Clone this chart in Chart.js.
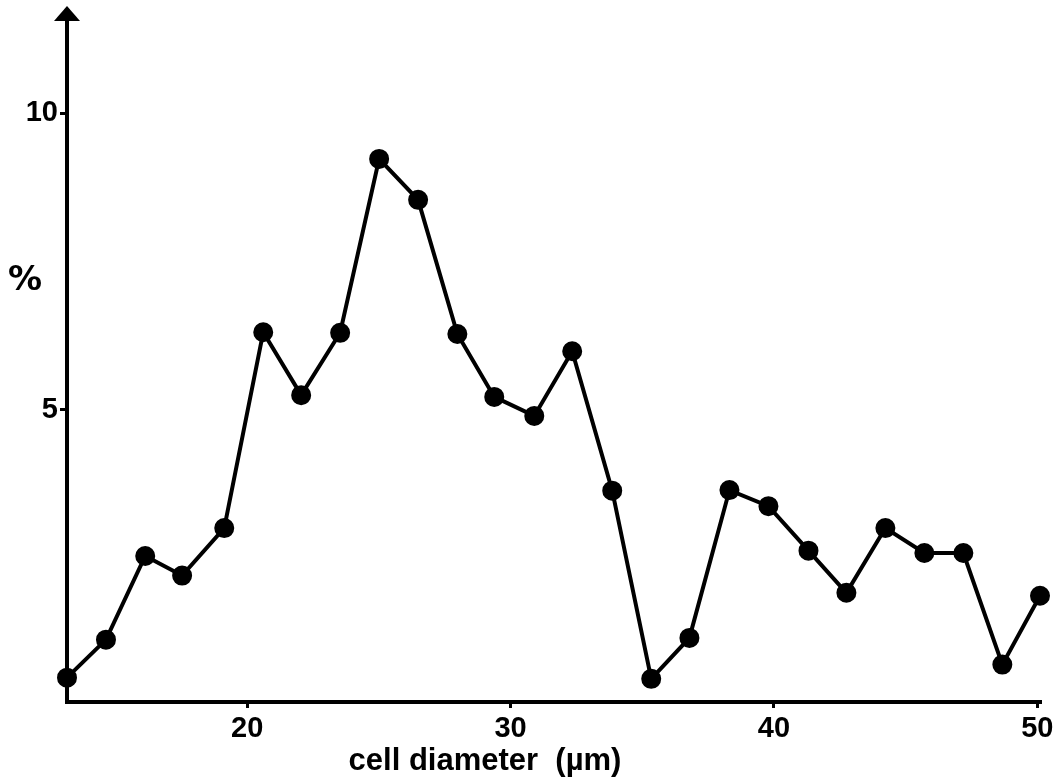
<!DOCTYPE html>
<html>
<head>
<meta charset="utf-8">
<title>cell diameter distribution</title>
<script src="https://cdn.jsdelivr.net/npm/chart.js@4/dist/chart.umd.min.js"></script>
<style>
  html, body { margin: 0; padding: 0; background: #fff; }
  #wrap { width: 1062px; height: 781px; }
</style>
</head>
<body>
<div id="wrap"><canvas id="sizeChart" width="1062" height="781"></canvas></div>
<script>
  // Data
  const diameters = [13.16, 14.64, 16.13, 17.53, 19.13, 20.61, 22.05, 23.53, 25.01, 26.49,
    27.98, 29.38, 30.9, 32.34, 33.86, 35.34, 36.79, 38.31, 39.79, 41.31,
    42.75, 44.23, 45.71, 47.19, 48.67, 50.1];
  const percents = [0.49, 1.13, 2.54, 2.21, 3.01, 6.31, 5.25, 6.3, 9.23, 8.54,
    6.28, 5.22, 4.9, 5.99, 3.64, 0.47, 1.16, 3.65, 3.38, 2.63,
    1.92, 3.01, 2.59, 2.59, 0.71, 1.87];
  const xTicks = [20, 30, 40, 50];
  const yTicks = [5, 10];
  const xTitle = "cell diameter  (\u00b5m)";
  const yTitle = "%";

  const tickFont = { family: "'Liberation Sans', Arial, sans-serif", size: 29, weight: "bold" };

  // Arrow on top of the y axis and the two axis titles
  const axisDecor = {
    id: "axisDecor",
    afterDraw(chart) {
      const ctx = chart.ctx;
      const area = chart.chartArea;
      ctx.save();
      ctx.fillStyle = "#000";
      ctx.beginPath();
      ctx.moveTo(area.left, area.top - 14);
      ctx.lineTo(area.left - 13, area.top + 1);
      ctx.lineTo(area.left + 13, area.top + 1);
      ctx.closePath();
      ctx.fill();

      ctx.font = "bold 34px 'DejaVu Sans', sans-serif";
      ctx.textAlign = "center";
      ctx.textBaseline = "middle";
      ctx.fillText(yTitle, 25, 281);

      ctx.font = "bold 31px 'Liberation Sans', Arial, sans-serif";
      ctx.fillText(xTitle, 485, 761);
      ctx.restore();
    }
  };

  new Chart(document.getElementById("sizeChart").getContext("2d"), {
    type: "scatter",
    data: {
      datasets: [
        {
          data: diameters.map((d, i) => ({ x: d, y: percents[i] })),
          showLine: true,
          borderColor: "#000",
          backgroundColor: "#000",
          borderWidth: 4,
          pointRadius: 8,
          pointHoverRadius: 8,
          clip: false,
        },
      ],
    },
    options: {
      responsive: false,
      animation: false,
      events: [],
      layout: { padding: { top: 20, right: 22, left: 0, bottom: 0 } },
      plugins: {
        legend: { display: false },
        tooltip: { enabled: false },
      },
      scales: {
        x: {
          type: "linear",
          min: 13.16,
          max: 50.1,
          afterBuildTicks: (scale) => { scale.ticks = xTicks.map((v) => ({ value: v })); },
          afterFit: (scale) => { scale.height = 79; },
          border: { display: true, color: "#000", width: 4 },
          grid: { display: true, drawOnChartArea: false, drawTicks: true, tickLength: 6, lineWidth: 3, color: "#000" },
          ticks: { color: "#000", font: tickFont, padding: 4, maxRotation: 0, autoSkip: false },
        },
        y: {
          type: "linear",
          min: 0.08,
          max: 11.57,
          afterBuildTicks: (scale) => { scale.ticks = yTicks.map((v) => ({ value: v })); },
          afterFit: (scale) => { scale.width = 67; },
          border: { display: true, color: "#000", width: 4 },
          grid: { display: true, drawOnChartArea: false, drawTicks: true, tickLength: 7, lineWidth: 3, color: "#000" },
          ticks: { color: "#000", font: tickFont, padding: 2 },
        },
      },
    },
    plugins: [axisDecor],
  });
</script>
</body>
</html>
